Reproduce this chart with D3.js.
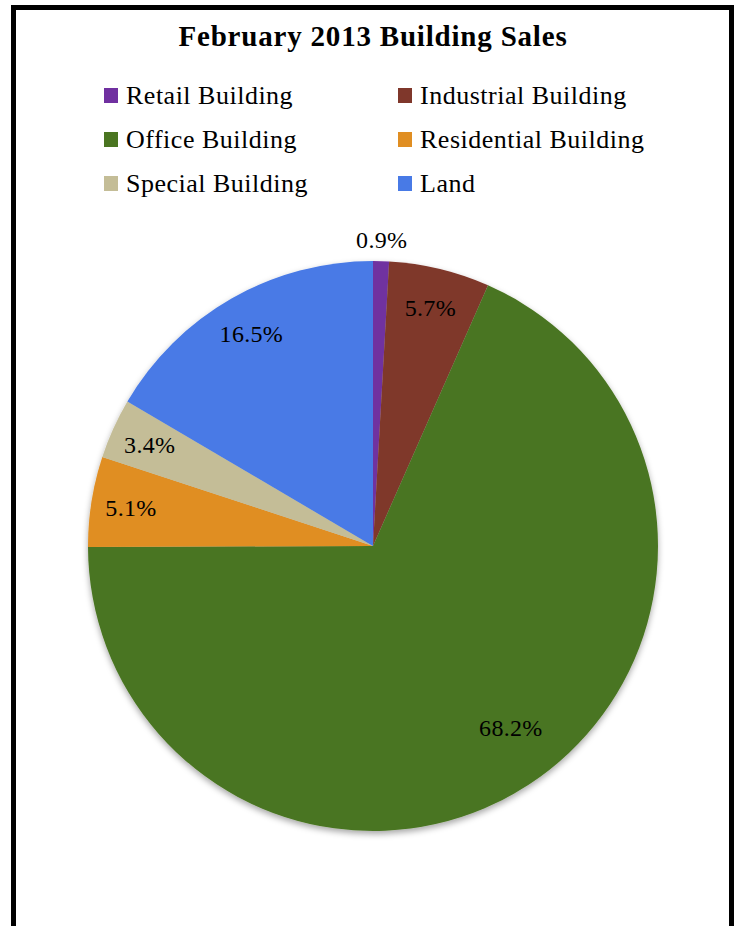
<!DOCTYPE html>
<html>
<head>
<meta charset="utf-8">
<script src="https://cdn.jsdelivr.net/npm/d3@7"></script>
<style>
  html, body { margin: 0; padding: 0; background: #fff; }
  svg { display: block; }
  text { font-family: "Liberation Serif", "DejaVu Serif", serif; fill: #000; }
</style>
</head>
<body>
<svg id="vis"></svg>
<script>
// datos del grafico
const categories = ["Retail Building", "Industrial Building", "Office Building",
                    "Residential Building", "Special Building", "Land"];
const values = [0.9, 5.7, 68.2, 5.1, 3.4, 16.5];
const colors = ["#7030A0", "#7F372B", "#4A7521", "#E08E22", "#C4BD97", "#487AE6"];
const title = "February 2013 Building Sales";

const WIDTH = 738;
const HEIGHT = 926;

const svg = d3.select("#vis")
    .attr("width", WIDTH)
    .attr("height", HEIGHT);

// fondo y marco negro
svg.append("rect")
    .attr("x", 13.5)
    .attr("y", 7.5)
    .attr("width", 718)
    .attr("height", 930)
    .attr("fill", "#fff")
    .attr("stroke", "#000")
    .attr("stroke-width", 5);

// titulo
svg.append("text")
    .attr("x", 373)
    .attr("y", 46)
    .attr("text-anchor", "middle")
    .attr("font-size", 29)
    .attr("letter-spacing", 0.8)
    .attr("font-weight", "bold")
    .text(title);

// leyenda en dos columnas
const legendX = d3.scaleOrdinal().domain([0, 1]).range([104, 398]);
const legendY = d3.scaleOrdinal().domain([0, 1, 2]).range([96, 140, 184]);

const legend = svg.append("g").attr("id", "legend")
    .selectAll("g")
    .data(categories)
    .join("g")
    .attr("transform", (d, i) => `translate(${legendX(i % 2)}, ${legendY(Math.floor(i / 2))})`);

legend.append("rect")
    .attr("x", 0)
    .attr("y", -8)
    .attr("width", 14)
    .attr("height", 15)
    .attr("fill", (d, i) => colors[i]);

legend.append("text")
    .attr("x", 22)
    .attr("y", 8)
    .attr("font-size", 26)
    .attr("letter-spacing", 0.5)
    .text(d => d);

// torta
const cx = 373, cy = 546, R = 285;

const defs = svg.append("defs");
const shadow = defs.append("filter").attr("id", "shadow")
    .attr("x", "-10%").attr("y", "-10%").attr("width", "120%").attr("height", "120%");
shadow.append("feDropShadow")
    .attr("dx", 0).attr("dy", 3).attr("stdDeviation", 3)
    .attr("flood-color", "#000").attr("flood-opacity", 0.35);

const pie = d3.pie().sort(null).value(d => d)(values);
const arc = d3.arc().innerRadius(0).outerRadius(R);

const pieG = svg.append("g")
    .attr("transform", `translate(${cx}, ${cy})`);

pieG.append("g")
    .attr("filter", "url(#shadow)")
    .selectAll("path")
    .data(pie)
    .join("path")
    .attr("d", arc)
    .attr("fill", (d, i) => colors[i]);

// etiquetas: dentro de la torta, fuera si la rebanada es muy chica
const labelRadius = d => d.data < 2 ? R + 22 : (d.data > 50 ? R * 0.8 : R * 0.86);
const labelAngle = d => {
    const a = (d.startAngle + d.endAngle) / 2;
    // la rebanada grande lleva su etiqueta algo mas cerca del borde derecho
    return d.data > 50 ? a - 0.07 : a;
};

pieG.append("g")
    .selectAll("text")
    .data(pie)
    .join("text")
    .attr("transform", d => {
        const a = labelAngle(d);
        const r = labelRadius(d);
        return `translate(${r * Math.sin(a)}, ${-r * Math.cos(a)})`;
    })
    .attr("text-anchor", "middle")
    .attr("dy", "0.35em")
    .attr("font-size", 24)
    .attr("letter-spacing", 0.3)
    .text(d => d.data.toFixed(1) + "%");
</script>
</body>
</html>
